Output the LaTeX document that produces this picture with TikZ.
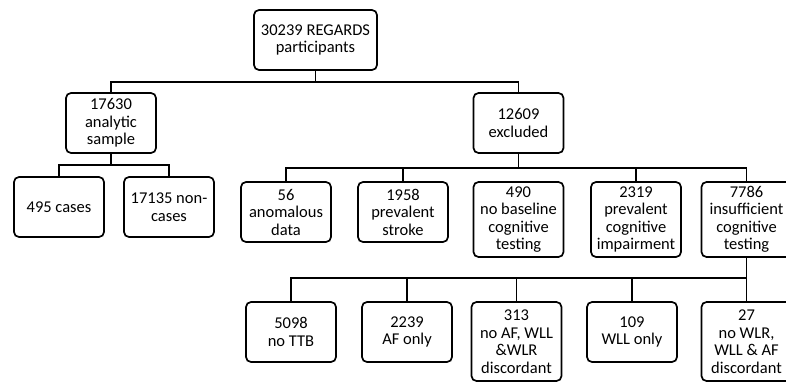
\documentclass[tikz,border=0pt]{standalone}
\usepackage{fontspec}
\setmainfont{Carlito}
\begin{document}
\begin{tikzpicture}[x=1pt,y=-1pt,
  box/.style={draw, line width=1.7pt, rounded corners=5pt, align=center,
    font=\fontsize{16.5}{17.5}\selectfont, inner sep=0pt, minimum width=90pt, minimum height=60pt},
  conn/.style={line width=1.7pt}]
\useasboundingbox (0,0) rectangle (786,382);
\node[box, minimum width=123pt] (top) at (315.5,40) {30239 REGARDS\\participants};
\node[box] (a) at (111,123) {17630\\analytic\\sample};
\node[box] (b) at (518.5,123) {12609\\excluded};
\node[box] (c1) at (59,207) {495 cases};
\node[box] (c2) at (169,207) {17135 non-\\cases};
\node[box] (d1) at (286,212) {56\\anomalous\\data};
\node[box] (d2) at (403,212) {1958\\prevalent\\stroke};
\node[box, minimum height=75pt] (d3) at (518.5,219.5) {490\\no baseline\\cognitive\\testing};
\node[box, minimum height=75pt] (d4) at (636,219.5) {2319\\prevalent\\cognitive\\impairment};
\node[box, minimum height=75pt] (d5) at (746.5,219.5) {7786\\insufficient\\cognitive\\testing};
\node[box] (e1) at (291,332) {5098\\no TTB};
\node[box] (e2) at (407,332) {2239\\AF only};
\node[box, minimum height=79pt] (e3) at (516.5,341.5) {313\\no AF, WLL\\\&WLR\\discordant};
\node[box] (e4) at (632,332) {109\\WLL only};
\node[box, minimum height=79pt] (e5) at (746.5,341.5) {27\\no WLR,\\WLL \& AF\\discordant};
\coordinate (j1) at (315.5,82);
\coordinate (j2) at (111,165);
\coordinate (j3) at (518.5,168);
\coordinate (j4) at (746.5,278);
\draw[conn] (top.south) -- (j1);
\draw[conn] (a.north) |- (j1);
\draw[conn] (b.north) |- (j1);
\draw[conn] (a.south) -- (j2);
\draw[conn] (c1.north) |- (j2);
\draw[conn] (c2.north) |- (j2);
\draw[conn] (b.south) -- (j3);
\foreach \n in {d1,d2,d4,d5} \draw[conn] (\n.north) |- (j3);
\draw[conn] (d5.south) -- (j4);
\foreach \n in {e1,e2,e3,e4,e5} \draw[conn] (\n.north) |- (j4);
\end{tikzpicture}
\end{document}
